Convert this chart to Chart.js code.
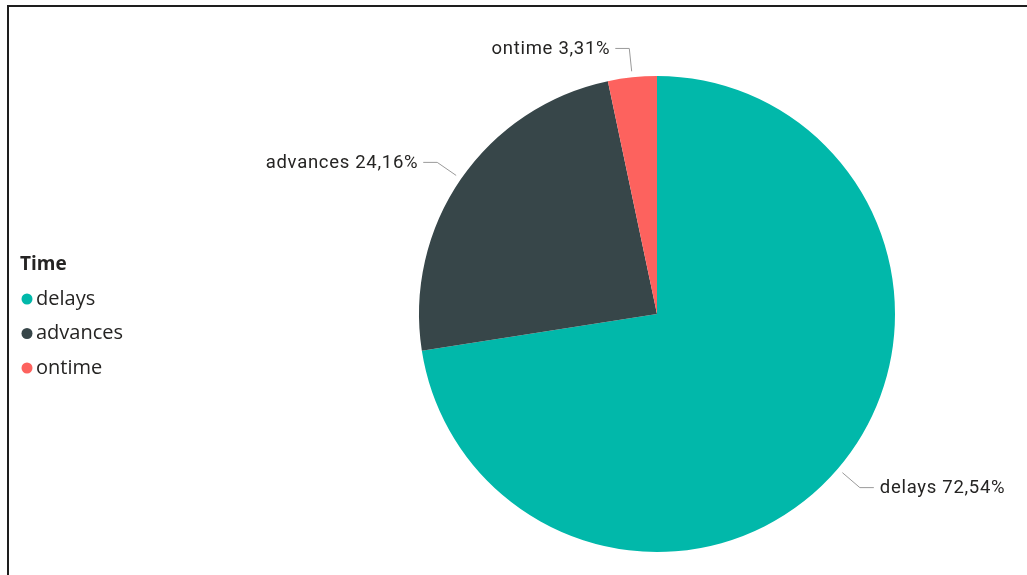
<!DOCTYPE html>
<html>
<head>
<meta charset="utf-8">
<script src="https://cdn.jsdelivr.net/npm/chart.js@4/dist/chart.umd.min.js"></script>
<style>
  html, body {
    margin: 0;
    padding: 0;
    background: #ffffff;
    overflow: hidden;
  }
  #frame {
    position: absolute;
    left: 7px;
    top: 5px;
    width: 1100px;
    height: 700px;
    border-top: 2px solid #1e1e1e;
    border-left: 2px solid #1e1e1e;
  }
  #wrap {
    position: absolute;
    left: 0;
    top: 0;
    width: 1027px;
    height: 575px;
  }
</style>
</head>
<body>
<div id="frame"></div>
<div id="wrap"><canvas id="timeChart"></canvas></div>
<script>
const legendTitle = "Time";
const categories = ["delays", "advances", "ontime"];
const shares = [72.54, 24.16, 3.31];
const sliceColors = ["#01B8AA", "#374649", "#FD625E"];

// percentage text as shown in the labels (comma decimal)
const fmtShare = (v) => v.toFixed(2).replace(".", ",") + "%";

// outside labels with elbow leader lines
const leaderLabels = {
  id: "leaderLabels",
  afterDatasetsDraw(chart) {
    const ctx = chart.ctx;
    const meta = chart.getDatasetMeta(0);
    ctx.save();
    ctx.font = "18.5px Roboto";
    ctx.letterSpacing = "0.7px";
    ctx.fillStyle = "#252423";
    ctx.textBaseline = "middle";
    meta.data.forEach((arc, i) => {
      const mid = (arc.startAngle + arc.endAngle) / 2;
      const r = arc.outerRadius;
      const cx = arc.x;
      const cy = arc.y;
      const x0 = cx + Math.cos(mid) * (r + 6);
      const y0 = cy + Math.sin(mid) * (r + 6);
      const x1 = cx + Math.cos(mid) * (r + 29);
      const y1 = cy + Math.sin(mid) * (r + 29);
      const right = Math.cos(mid) >= 0;
      const x2 = x1 + (right ? 14 : -14);
      ctx.strokeStyle = "#9a9a9a";
      ctx.lineWidth = 1;
      ctx.beginPath();
      ctx.moveTo(x0, y0);
      ctx.lineTo(x1, y1);
      ctx.lineTo(x2, y1);
      ctx.stroke();
      ctx.textAlign = right ? "left" : "right";
      const text = categories[i] + " " + fmtShare(shares[i]);
      ctx.fillText(text, x2 + (right ? 6 : -5), y1 + 1);
    });
    ctx.restore();
  },
};

// legend block on the left
const sideLegend = {
  id: "sideLegend",
  afterDraw(chart) {
    const ctx = chart.ctx;
    ctx.save();
    ctx.textBaseline = "middle";
    ctx.textAlign = "left";
    ctx.fillStyle = "#252423";
    ctx.font = "bold 19px 'Open Sans'";
    ctx.fillText(legendTitle, 20, 265);
    ctx.font = "20px 'Open Sans'";
    categories.forEach((name, i) => {
      const y = 299 + i * 34.5;
      ctx.fillStyle = sliceColors[i];
      ctx.beginPath();
      ctx.arc(27, y, 5.5, 0, Math.PI * 2);
      ctx.fill();
      ctx.fillStyle = "#252423";
      ctx.fillText(name, 36, y);
    });
    ctx.restore();
  },
};

const ctx = document.getElementById("timeChart").getContext("2d");
const pieChart = new Chart(ctx, {
  type: "pie",
  data: {
    labels: categories,
    datasets: [
      {
        data: shares,
        backgroundColor: sliceColors,
        borderWidth: 0,
        hoverOffset: 0,
      },
    ],
  },
  options: {
    responsive: true,
    maintainAspectRatio: false,
    animation: false,
    layout: {
      padding: { left: 419, right: 132, top: 76, bottom: 23 },
    },
    plugins: {
      legend: { display: false },
      tooltip: { enabled: false },
    },
  },
  plugins: [leaderLabels, sideLegend],
});
</script>
</body>
</html>
